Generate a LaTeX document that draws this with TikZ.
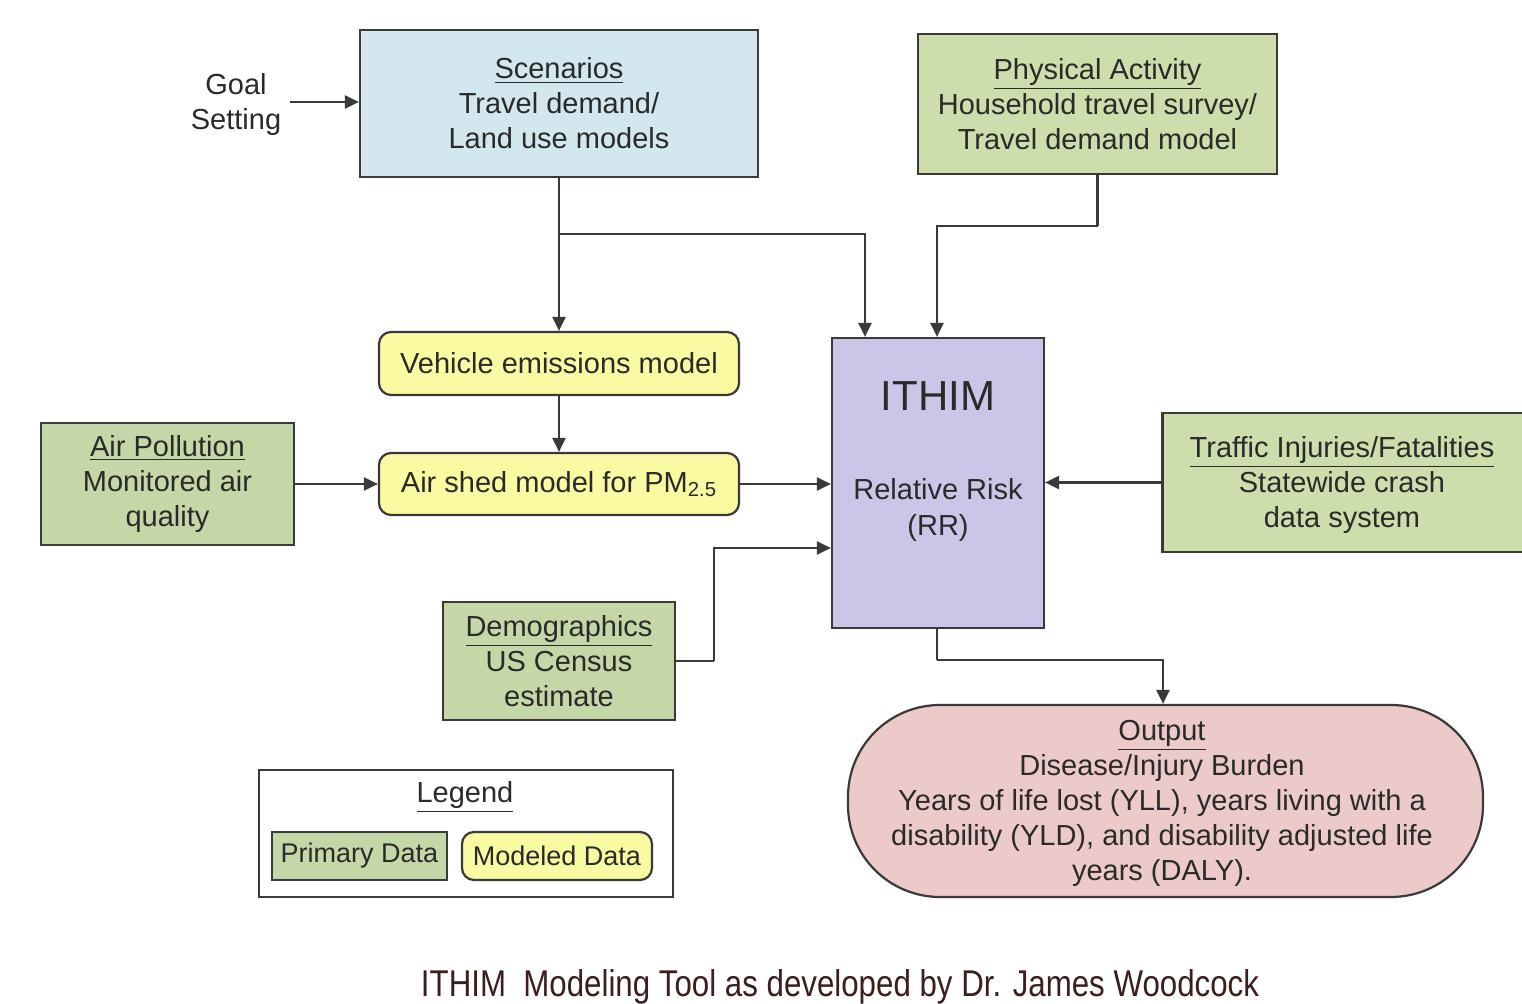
\documentclass[tikz,border=0pt]{standalone}
\usepackage{fontspec}
\setmainfont{Liberation Sans}
\usetikzlibrary{arrows.meta,positioning}
\definecolor{lineC}{HTML}{3A3A3A}
\definecolor{txtC}{HTML}{2A2A2A}
\definecolor{blueF}{HTML}{D2E8EE}
\definecolor{greenF}{HTML}{CEDDAC}
\definecolor{greenD}{HTML}{C6D7A7}
\definecolor{yellowF}{HTML}{FAFAA2}
\definecolor{purpleF}{HTML}{CAC6E8}
\definecolor{pinkF}{HTML}{EDCACA}
\definecolor{capC}{HTML}{3B1E1E}
\tikzset{
  box/.style={draw=lineC, line width=1.1pt, text=txtC, align=center, inner sep=0pt,
    font=\fontsize{14.5}{17.5}\selectfont},
  databox/.style={box, fill=greenF},
  modelbox/.style={box, fill=yellowF, rounded corners=6pt},
  arr/.style={draw=lineC, line width=1.1pt, -{Triangle[length=7pt,width=6.5pt]}},
  ln/.style={draw=lineC, line width=1.1pt},
}
\begin{document}
\begin{tikzpicture}[x=0.5pt,y=-0.5pt]
\useasboundingbox (0,0) rectangle (1522,1004);
\fill[white] (0,0) rectangle (1522,1004);

% nodes
\node[box, fill=blueF, minimum width=199pt, minimum height=73.5pt] (scen) at (559,103.5)
  {\underline{Scenarios}\\Travel demand/\\Land use models};
\node[box, draw=none, fill=none] (goal) at (236,105) {Goal\\Setting};
\node[databox, minimum width=179.5pt, minimum height=70pt] (phys) at (1097.5,104)
  {\underline{Physical Activity}\\Household travel survey/\\Travel demand model};
\node[modelbox, minimum width=180pt, minimum height=31.5pt] (veh) at (559,363.5)
  {Vehicle emissions model};
\node[modelbox, minimum width=180pt, minimum height=31pt] (air) at (559,484)
  {Air shed model for PM\textsubscript{2.5}};
\node[databox, fill=greenD, minimum width=126.5pt, minimum height=61pt] (apol) at (167.5,484)
  {\underline{Air Pollution}\\Monitored air\\quality};
\node[box, fill=purpleF, minimum width=106pt, minimum height=145pt] (ithim) at (938,483) {};
\node[text=txtC, font=\fontsize{21}{24}\selectfont] (ithimT) at (938,396) {ITHIM};
\node[text=txtC, align=center, font=\fontsize{14.5}{17.5}\selectfont] (rr) at (938,510) {Relative Risk\\(RR)};
\node[databox, minimum width=181pt, minimum height=69.5pt] (traf) at (1343.5,482.5) {};
\node[text=txtC, align=center, font=\fontsize{14.5}{17.5}\selectfont] (trafT) at (1342,485)
  {\underline{Traffic Injuries/Fatalities}\\Statewide crash\\data system};
\node[databox, fill=greenD, minimum width=116pt, minimum height=59pt] (demo) at (559,661)
  {\underline{Demographics}\\US Census\\estimate};
\node[box, fill=pinkF, minimum width=317.5pt, minimum height=96pt, rounded corners=46pt] (out) at (1165.5,801) {};
\node[text=txtC, align=center, font=\fontsize{14.5}{17.5}\selectfont] (outT) at (1162,803)
  {\underline{Output}\\Disease/Injury Burden\\Years of life lost (YLL), years living with a\\disability (YLD), and disability adjusted life\\years (DALY).};

% legend
\node[box, fill=white, minimum width=207pt, minimum height=63.5pt] (leg) at (466,833.5) {};
\node[text=txtC, font=\fontsize{14.5}{17.5}\selectfont] (legT) at (465,797) {\underline{Legend}};
\node[databox, fill=greenD, minimum width=87.5pt, minimum height=24pt, font=\fontsize{13.5}{16}\selectfont] (prim) at (359.5,856) {Primary Data};
\node[modelbox, minimum width=95pt, minimum height=24pt, font=\fontsize{13.5}{16}\selectfont] (mod) at (557,856) {Modeled Data};

% caption
\node[text=capC, inner sep=0pt] (cap) at (840,987)
  {\resizebox{419pt}{13.5pt}{ITHIM\ \ Modeling Tool as developed by Dr. James Woodcock}};

% connectors
\coordinate (j1) at (559,234);
\coordinate (j2) at (1097.5,226);
\coordinate (j3) at (714,661);
\coordinate (j4) at (937,660);
\coordinate (g0) at (290,102);
\draw[arr] (g0) -- (g0 -| scen.west);
\draw[arr] (scen.south) -- (veh.north);
\draw[arr] (j1) -| ([xshift=-36.5pt]ithim.north);
\draw[ln] (phys.south) -- (j2);
\draw[arr] (j2) -| ([xshift=-0.5pt]ithim.north);
\draw[arr] (veh.south) -- (air.north);
\draw[arr] (apol.east) -- (air.west);
\draw[arr] (air.east) -- (air.east -| ithim.west);
\draw[arr] (traf.west) -- (traf.west -| ithim.east);
\draw[ln] (demo.east) -- (j3);
\draw[arr] (j3) |- ([yshift=-32.5pt]ithim.west);
\draw[ln] ([xshift=-0.5pt]ithim.south) -- (j4);
\draw[arr] (j4) -| ([xshift=-1.25pt]out.north);
\end{tikzpicture}
\end{document}
